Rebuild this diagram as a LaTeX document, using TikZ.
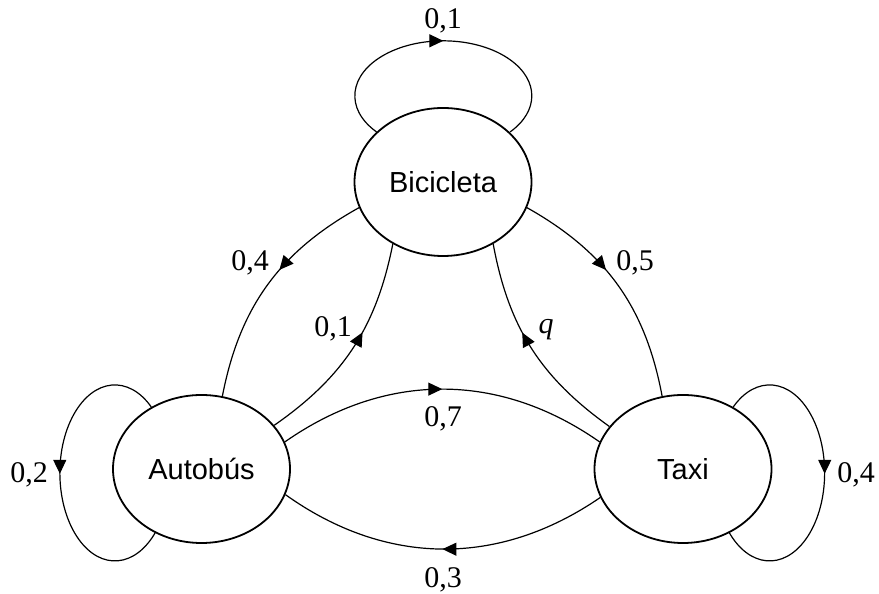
\documentclass[tikz,border=0pt]{standalone}
\usepackage{fontspec}
\setmainfont{Liberation Serif}
\newfontfamily\arialfont{Liberation Sans}
\usetikzlibrary{shapes.geometric,arrows.meta,decorations.markings}
\tikzset{
  state/.style={ellipse, draw, line width=1.8pt, minimum width=177pt, minimum height=148pt, inner sep=0pt,
    font=\arialfont\fontsize{29}{32}\selectfont},
  edge/.style={line width=1.2pt},
  tipat/.style={postaction={decorate}, decoration={markings,
    mark=at position #1 with {\arrow{Triangle[length=14pt,width=13pt]}}}},
  lbl/.style={anchor=base, inner sep=0pt, font=\fontsize{30}{32}\selectfont}
}
\begin{document}
\begin{tikzpicture}[x=1pt,y=1pt]
\useasboundingbox (0,0) rectangle (879,594);
\node[state] (bic) at (443,412) {Bicicleta};
\node[state] (aut) at (201.5,125) {Autobús};
\node[state] (taxi) at (683,125) {Taxi};
% loops
\draw[edge,tipat=0.5] (bic.143) arc[start angle=221, end angle=-41, x radius=88.5pt, y radius=55pt];
\draw[edge,tipat=0.49] (aut.129) arc[start angle=48.5, end angle=318, x radius=55pt, y radius=88pt];
\draw[edge,tipat=0.49] (taxi.51) arc[start angle=131.5, end angle=-138, x radius=55pt, y radius=88pt];
% edges
\draw[edge,tipat=0.42] (bic.197) to[bend right=25] (aut.74);
\draw[edge,tipat=0.42] (bic.-17) to[bend left=25] (taxi.106);
\draw[edge,tipat=0.58] (aut.31) to[bend right=22] (bic.231);
\draw[edge,tipat=0.58] (taxi.150) to[bend left=22] (bic.-51);
\draw[edge,tipat=0.5] (aut.18) to[bend left=35] (taxi.162);
\draw[edge,tipat=0.5] (taxi.199) to[bend left=35] (aut.-17);
% labels
\node[lbl] (l1) at (443,565) {0,1};
\node[lbl] (l2) at (29,111) {0,2};
\node[lbl] (l3) at (856,111) {0,4};
\node[lbl] (l4) at (250,323) {0,4};
\node[lbl] (l5) at (635,323) {0,5};
\node[lbl] (l6) at (333,257) {0,1};
\node[lbl] (l7) at (546,260.5) {\itshape q};
\node[lbl] (l8) at (443,167) {0,7};
\node[lbl] (l9) at (443,6) {0,3};
\end{tikzpicture}
\end{document}
